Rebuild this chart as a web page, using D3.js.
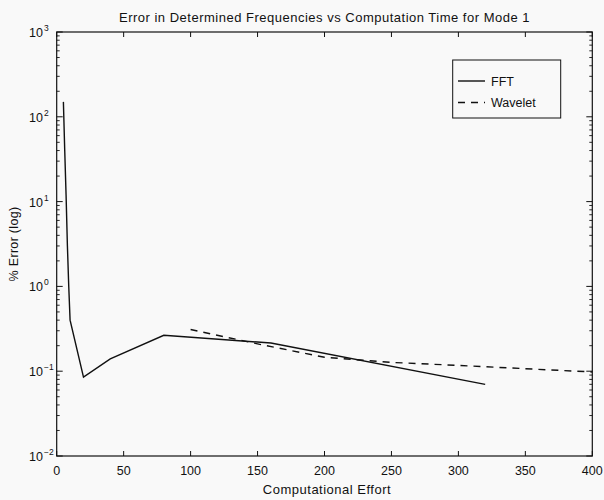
<!DOCTYPE html>
<html><head><meta charset="utf-8">
<script src="https://cdn.jsdelivr.net/npm/d3@7"></script>
<style>
html,body{margin:0;padding:0;background:#f9f9f9;}
text{font-family:"Liberation Sans",Arial,Helvetica,sans-serif;fill:#111;}
</style></head>
<body><svg id="c" width="604" height="500"></svg>
<script>
// ---- data ----
const fftX = [5, 6, 7, 8, 9, 10, 20, 40, 80, 160, 320];
const fftY = [150, 40, 12, 3, 1, 0.4, 0.085, 0.14, 0.265, 0.215, 0.07];
const waveX = [100, 150, 200, 250, 300, 350, 400];
const waveY = [0.31, 0.21, 0.146, 0.127, 0.117, 0.107, 0.098];
const xTicks = [0, 50, 100, 150, 200, 250, 300, 350, 400];
const yTicks = [1e3, 1e2, 1e1, 1e0, 1e-1, 1e-2];
const yTickExp = ["3", "2", "1", "0", "\u22121", "\u22122"];
const seriesNames = ["FFT", "Wavelet"];
const title = "Error in Determined Frequencies vs Computation Time for Mode 1";
const xLabel = "Computational Effort";
const yLabel = "% Error (log)";

const L = 56.7, R = 592.3, T = 32, B = 456;
const svg = d3.select("#c");
const x = d3.scaleLinear().domain([0, 400]).range([L, R]);
const y = d3.scaleLog().domain([1e-2, 1e3]).range([B, T]);
const ink = "#111";

// frame
svg.append("rect").attr("x", L).attr("y", T).attr("width", R - L).attr("height", B - T)
  .attr("fill", "none").attr("stroke", ink).attr("stroke-width", 1.2);

// x ticks (inward, top and bottom)
xTicks.forEach(v => {
  svg.append("line").attr("x1", x(v)).attr("x2", x(v)).attr("y1", B).attr("y2", B - 5).attr("stroke", ink);
  svg.append("line").attr("x1", x(v)).attr("x2", x(v)).attr("y1", T).attr("y2", T + 5).attr("stroke", ink);
  svg.append("text").attr("x", x(v)).attr("y", B + 19).attr("text-anchor", "middle")
    .attr("font-size", 12.5).text(v);
});

// y ticks: major and minor
const minor = [];
for (let e = -2; e < 3; e++) for (let m = 2; m <= 9; m++) minor.push(m * Math.pow(10, e));
minor.forEach(v => {
  svg.append("line").attr("x1", L).attr("x2", L + 3).attr("y1", y(v)).attr("y2", y(v)).attr("stroke", ink).attr("stroke-width", 0.9);
  svg.append("line").attr("x1", R).attr("x2", R - 3).attr("y1", y(v)).attr("y2", y(v)).attr("stroke", ink).attr("stroke-width", 0.9);
});
yTicks.forEach((v, i) => {
  svg.append("line").attr("x1", L).attr("x2", L + 6).attr("y1", y(v)).attr("y2", y(v)).attr("stroke", ink);
  svg.append("line").attr("x1", R).attr("x2", R - 6).attr("y1", y(v)).attr("y2", y(v)).attr("stroke", ink);
  svg.append("text").attr("x", 43).attr("y", y(v) + 5).attr("text-anchor", "end").attr("font-size", 12.5).text("10");
  svg.append("text").attr("x", 44).attr("y", y(v) - 1).attr("font-size", 8.5).text(yTickExp[i]);
});

// lines
const line = d3.line().x(d => x(d[0])).y(d => y(d[1]));
const fft = fftX.map((v, i) => [v, fftY[i]]);
const wave = waveX.map((v, i) => [v, waveY[i]]);
svg.append("path").attr("d", line(fft)).attr("fill", "none").attr("stroke", ink).attr("stroke-width", 1.4);
svg.append("path").attr("d", line(wave)).attr("fill", "none").attr("stroke", ink).attr("stroke-width", 1.4)
  .attr("stroke-dasharray", "7,6");

// legend
svg.append("rect").attr("x", 452.7).attr("y", 60).attr("width", 108).attr("height", 58)
  .attr("fill", "#f9f9f9").attr("stroke", ink).attr("stroke-width", 1);
const ly = [81, 102.5];
svg.append("line").attr("x1", 458).attr("x2", 485).attr("y1", ly[0]).attr("y2", ly[0]).attr("stroke", ink).attr("stroke-width", 1.4);
svg.append("line").attr("x1", 458).attr("x2", 485).attr("y1", ly[1]).attr("y2", ly[1]).attr("stroke", ink).attr("stroke-width", 1.4).attr("stroke-dasharray", "7,6");
seriesNames.forEach((n, i) => {
  svg.append("text").attr("x", 491).attr("y", ly[i] + 4.5).attr("font-size", 12.5).text(n);
});

// titles
svg.append("text").attr("x", 324.5).attr("y", 22).attr("text-anchor", "middle").attr("font-size", 13)
  .attr("letter-spacing", 0.5).text(title);
svg.append("text").attr("x", 327).attr("y", 494).attr("text-anchor", "middle").attr("font-size", 13)
  .attr("letter-spacing", 0.5).text(xLabel);
svg.append("text").attr("transform", "translate(18," + ((T + B) / 2) + ") rotate(-90)")
  .attr("text-anchor", "middle").attr("font-size", 12.5).attr("letter-spacing", 0.3).text(yLabel);
</script></body></html>
